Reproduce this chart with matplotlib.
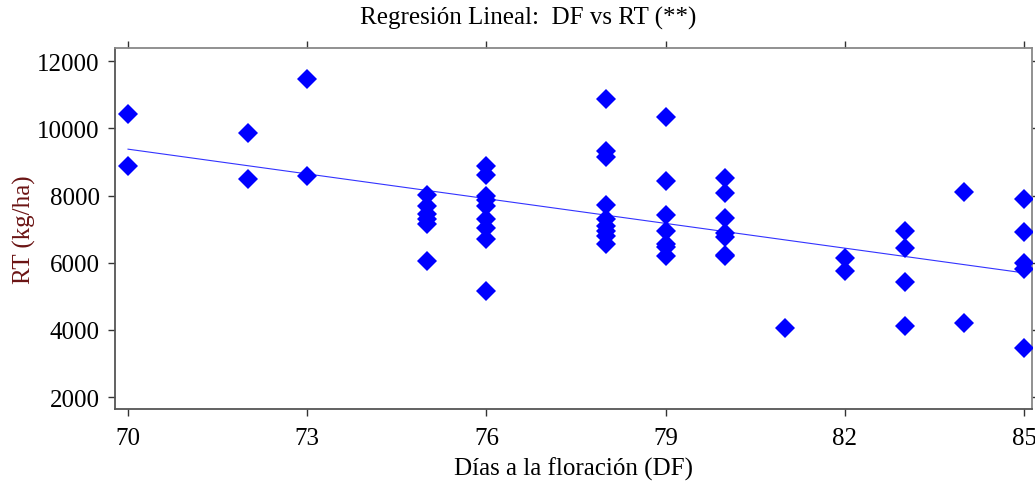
import matplotlib
matplotlib.use("Agg")
import matplotlib.pyplot as plt
import numpy as np

# Días a la floración (DF) and rendimiento (RT, kg/ha)
df_days = [70, 70,
           72, 72,
           73, 73,
           75, 75, 75, 75, 75, 75,
           76, 76, 76, 76, 76, 76, 76, 76, 76,
           78, 78, 78, 78, 78, 78, 78, 78, 78,
           79, 79, 79, 79, 79, 79, 79,
           80, 80, 80, 80, 80, 80, 80,
           81,
           82, 82,
           83, 83, 83, 83,
           84, 84,
           85, 85, 85, 85, 85]
rt = [10420, 8875,
      9860, 8490,
      11460, 8580,
      8020, 7690, 7450, 7300, 7150, 6060,
      8880, 8620, 7990, 7860, 7690, 7300, 7020, 6700, 5150,
      10870, 9330, 9160, 7720, 7300, 7100, 6950, 6800, 6560,
      10340, 8440, 7430, 6950, 6550, 6480, 6210,
      8520, 8070, 7330, 6900, 6780, 6230, 6190,
      4045,
      6130, 5760,
      6950, 6425, 5415, 4105,
      8120, 4200,
      7890, 6920, 6000, 5800, 3460]

x_ticks = [70, 73, 76, 79, 82, 85]
y_ticks = [2000, 4000, 6000, 8000, 10000, 12000]

plt.rcParams["font.family"] = ["Liberation Serif", "DejaVu Serif"]

fig = plt.figure(figsize=(10.35, 4.85), dpi=100)
ax = fig.add_axes([0.111, 0.154, 0.886, 0.745])

x = np.array(df_days, dtype=float)
y = np.array(rt, dtype=float)
slope, intercept = np.polyfit(x, y, 1)
xl = np.array([min(x_ticks), max(x_ticks)], dtype=float)
ax.plot(xl, slope * xl + intercept, color="#3333ff", lw=0.8, zorder=2)

ax.plot(x, y, linestyle="none", marker="D", ms=10, color="#0000ff",
        markeredgewidth=0, zorder=3)

ax.set_xlim(69.78, 85.13)
ax.set_ylim(1640, 12390)
ax.set_xticks(x_ticks)
ax.set_yticks(y_ticks)
ax.tick_params(axis="both", direction="out", length=5, width=1,
               labelsize=18, colors="#333333", labelcolor="black",
               top=True, right=True, pad=6)
ax.tick_params(axis="x", pad=8)

for side in ["left", "bottom"]:
    ax.spines[side].set_color("#555555")
    ax.spines[side].set_linewidth(1.3)
for side in ["top", "right"]:
    ax.spines[side].set_color("#888888")
    ax.spines[side].set_linewidth(1.3)

ax.set_xlabel("Días a la floración (DF)", fontsize=18, labelpad=5)
ax.set_ylabel("RT (kg/ha)", fontsize=18, color="#6b1414", labelpad=1)
fig.text(528 / 1035, 1 - 18 / 485, "Regresión Lineal:  DF vs RT (**)",
         fontsize=18, ha="center", va="center")

fig.savefig("out.png", dpi=100)
